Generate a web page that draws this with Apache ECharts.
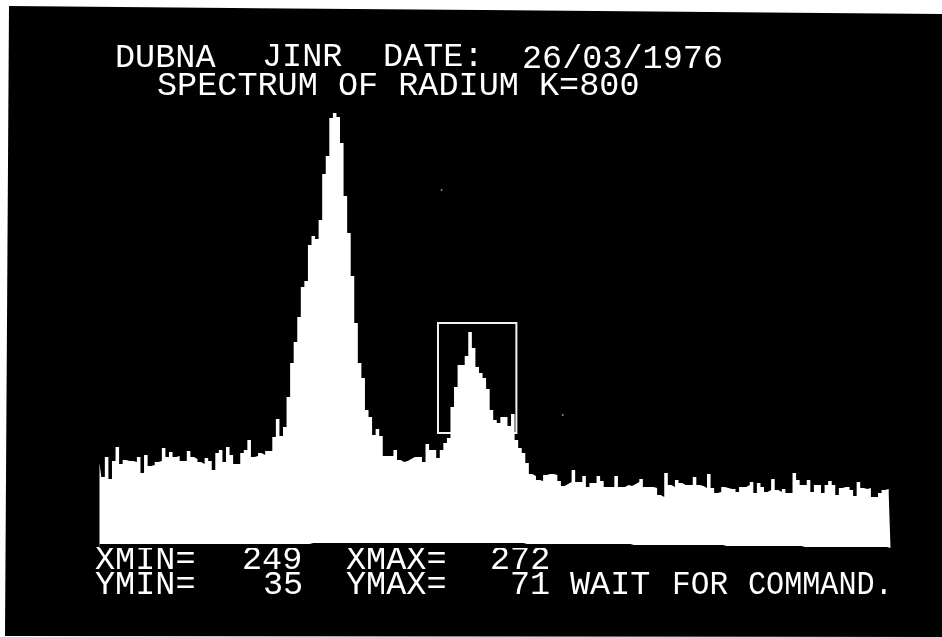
<!DOCTYPE html>
<html>
<head>
<meta charset="utf-8">
<title>Spectrum of radium</title>
<style>
  html, body { margin: 0; padding: 0; background: #fff; }
  /* the photo edge is a bit crooked */
  #chart {
    width: 942px; height: 637px;
    clip-path: polygon(9px 6px, 942px 14px, 942px 637px, 5px 636px);
  }
</style>
<script src="https://cdn.jsdelivr.net/npm/echarts@6/dist/echarts.min.js"></script>
</head>
<body>
<div id="chart"></div>
<script>
// counts per channel, in four stretches
const leftNoise = [85,71,91,69,87,101,84,88,87,87, 86,91,75,93,82,83,86,87,100,91,
  96,91,92,87,87,97,91,89,86,84, 90,87,78,95,98,86,101,93,84,84,
  95,98,108,91,92,95,93,97,97,111, 129,112,121,151,185]
const mainPeak = [206,231,261,267,303,312,309,328,374,392,430,435,431,405,352,315,272,225,185,
  170,138,131,113,119,112]
const valley = [92,92,92,98,88,86,87,89,91,91,91,86,104,98,98,90,98,105,110]
const secondPeak = [141,161,183,183,192,216,200,181,175,170,159,138,128,125,131,131,122,134,
  108,100,95,85,74,72,68,67]
const rightNoise = [73,74,74,73,67,62,64,66,78,66,66,72,61,65,65,72,67,61,61,61,72,61,61,63,62,64,66,
  69,61,61,61,60,53,51,75,63,61,68,65,63,63,63,71,63,62,60,74,60,55,56,61,60,59,59,56,
  61,61,63,66,55,65,61,56,58,69,58,56,59,55,55,75,68,63,63,68,56,63,63,55,63,67,63,53,
  60,61,61,58,52,66,60,59,60,51,51,55,58,59,54]
const counts = [...leftNoise, ...mainPeak, ...valley, ...secondPeak, ...rightNoise]

// black gap under the trace, it sags to the right [channels, gap]
const floorRuns = [[60,4],[60,5],[30,4],[26,3],[22,2],[25,1]]
const floorGap = floorRuns.flatMap(r => Array(r[0]).fill(r[1]))

// the cursor window: first channel, last channel, low, high
const cursorWindow = [95, 117, 115, 225]
// stray dots on the tube
const specks = [[96, 358], [130, 133]]

const headerLine1 = ['DUBNA', 'JINR', 'DATE:', '26/03/1976']
const headerLine2 = ['SPECTRUM OF RADIUM K=800']
const statusLine1 = ['XMIN=', '249', 'XMAX=', '272']
const statusLine2 = ['YMIN=', '35', 'YMAX=', '71', 'WAIT', 'FOR', 'COMMAND.']

const channels = counts.map((_, i) => i)

const crt = (text, x, y, scaleX = 1) => ({
  type: 'text',
  x, y,
  scaleX,
  silent: true,
  style: {
    text,
    fill: '#fff',
    font: '33.5px "Liberation Mono", "DejaVu Sans Mono", monospace',
    textVerticalAlign: 'middle'
  }
})

const chart = echarts.init(document.getElementById('chart'))

chart.setOption({
  animation: false,
  backgroundColor: '#000',
  grid: { left: 99.5, top: 1, width: 791, height: 547 },
  xAxis: { type: 'category', data: channels, boundaryGap: false, show: false },
  yAxis: { type: 'value', min: 0, max: 547, show: false },
  series: [
    {
      name: 'counts',
      type: 'line',
      step: 'middle',
      data: counts,
      symbol: 'none',
      lineStyle: { width: 0 },
      areaStyle: { color: '#fff', opacity: 1 }
    },
    {
      name: 'floor',
      type: 'line',
      step: 'middle',
      data: floorGap,
      symbol: 'none',
      lineStyle: { width: 0 },
      areaStyle: { color: '#000', opacity: 1 }
    },
    {
      name: 'cursor',
      type: 'custom',
      silent: true,
      data: [cursorWindow],
      renderItem: (params, api) => {
        const a = api.coord([api.value(0), api.value(2)])
        const b = api.coord([api.value(1), api.value(3)])
        return {
          type: 'rect',
          shape: { x: a[0], y: b[1], width: b[0] - a[0], height: a[1] - b[1] },
          style: { fill: 'none', stroke: '#f2f2f2', lineWidth: 2 }
        }
      }
    },
    {
      name: 'specks',
      type: 'scatter',
      data: specks,
      symbolSize: 2,
      itemStyle: { color: '#aaa' }
    }
  ],
  graphic: [
    crt(headerLine1[0], 115, 58),
    crt(headerLine1[1], 262, 57),
    crt(headerLine1[2], 383, 57),
    crt(headerLine1[3], 522, 59),
    crt(headerLine2[0], 157, 86),
    crt(statusLine1[0], 95, 560),
    crt(statusLine1[1], 242, 560),
    crt(statusLine1[2], 346, 560),
    crt(statusLine1[3], 490, 560),
    crt(statusLine2[0], 95, 585),
    crt(statusLine2[1], 263, 585),
    crt(statusLine2[2], 346, 585),
    crt(statusLine2[3], 510, 585),
    crt(statusLine2[4], 570, 585),
    crt(statusLine2[5], 672, 585, 0.93),
    crt(statusLine2[6], 748, 585, 0.9)
  ]
})
</script>
</body>
</html>
